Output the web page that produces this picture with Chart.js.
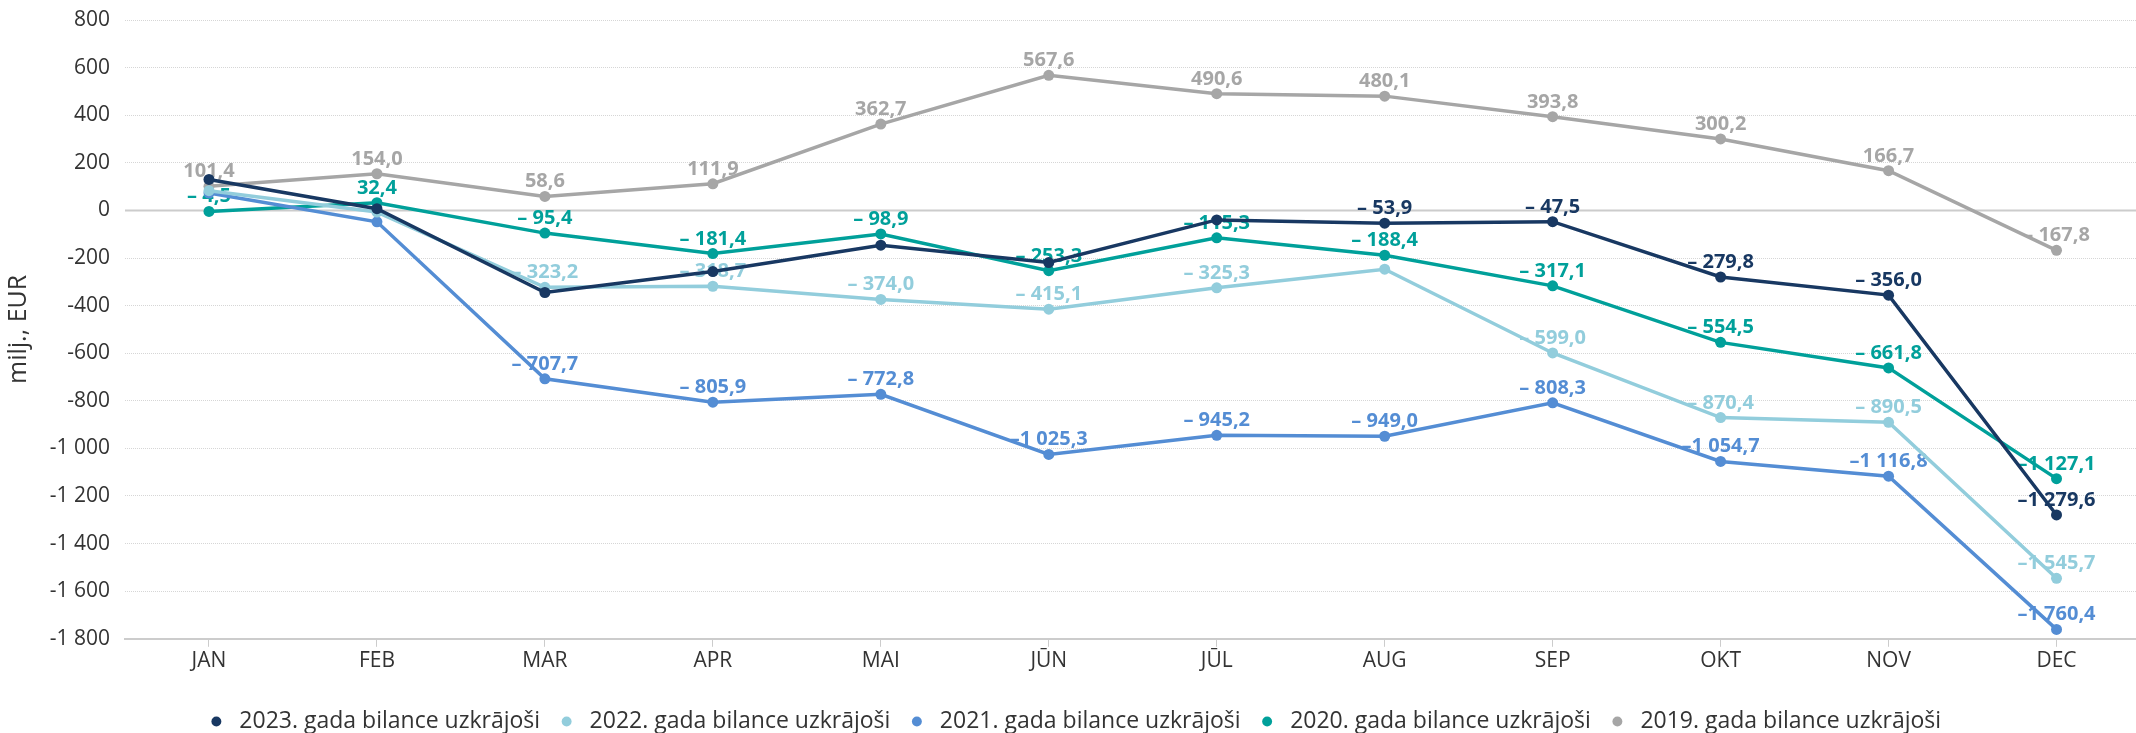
<!DOCTYPE html>
<html lang="lv">
<head>
  <meta charset="UTF-8">
  <title>Bilance uzkrājoši</title>
  <script src="https://cdn.jsdelivr.net/npm/chart.js"></script>
  <style>
    body {
      margin: 0;
      padding: 0;
      background: #fff;
      overflow: hidden;
    }

    .wrap {
      position: relative;
      width: 2146px;
      height: 733px;
    }
  </style>
</head>
<body>
  <div class="wrap">
    <canvas id="balanceChart"></canvas>
  </div>
  <script>
    const months = ["JAN", "FEB", "MAR", "APR", "MAI", "JŪN", "JŪL", "AUG", "SEP", "OKT", "NOV", "DEC"];

    // milj. EUR, cumulative balance per month
    const bal2023 = [130, 7, -345, -257, -146, -219, -40, -53.9, -47.5, -279.8, -356.0, -1279.6];
    const bal2022 = [83, -7, -323.2, -318.7, -374.0, -415.1, -325.3, -247, -599.0, -870.4, -890.5, -1545.7];
    const bal2021 = [73, -48, -707.7, -805.9, -772.8, -1025.3, -945.2, -949.0, -808.3, -1054.7, -1116.8, -1760.4];
    const bal2020 = [-4.5, 32.4, -95.4, -181.4, -98.9, -253.3, -115.3, -188.4, -317.1, -554.5, -661.8, -1127.1];
    const bal2019 = [101.4, 154.0, 58.6, 111.9, 362.7, 567.6, 490.6, 480.1, 393.8, 300.2, 166.7, -167.8];

    // months whose value label is not shown (overlapping in the original)
    const hidden2023 = [0, 1, 2, 3, 4, 5, 6];
    const hidden2022 = [0, 1, 7];
    const hidden2021 = [0, 1];

    const FONT = "'Open Sans', sans-serif";

    function fmtLabel(v) {
      const abs = Math.abs(v).toFixed(1).replace(".", ",");
      const parts = abs.split(",");
      const whole = parts[0].replace(/\B(?=(\d{3})+(?!\d))/g, " ");
      const txt = whole + "," + parts[1];
      if (v >= 0) return txt;
      return Math.abs(v) >= 1000 ? "–" + txt : "– " + txt;
    }

    function makeSet(label, data, color, hidden) {
      return {
        label: label,
        data: data,
        borderColor: color,
        backgroundColor: color,
        borderWidth: 3.5,
        pointRadius: 5.5,
        pointHoverRadius: 5.5,
        pointBorderWidth: 0,
        tension: 0,
        hiddenLabels: hidden || []
      };
    }

    const valueLabels = {
      id: "valueLabels",
      afterDatasetDraw(chart, args) {
        const ctx = chart.ctx;
        const ds = chart.data.datasets[args.index];
        ctx.save();
        ctx.font = "bold 20px " + FONT;
        ctx.textAlign = "center";
        ctx.textBaseline = "alphabetic";
        ctx.fillStyle = ds.borderColor;
        args.meta.data.forEach((pt, i) => {
          if (ds.hiddenLabels.includes(i)) return;
          ctx.fillText(fmtLabel(ds.data[i]), pt.x, pt.y - 9);
        });
        ctx.restore();
      }
    };

    const zeroLine = {
      id: "zeroLine",
      beforeDatasetsDraw(chart) {
        const ctx = chart.ctx;
        const y = chart.scales.y.getPixelForValue(0);
        ctx.save();
        ctx.strokeStyle = "#cccccc";
        ctx.lineWidth = 2;
        ctx.beginPath();
        ctx.moveTo(chart.chartArea.left, y);
        ctx.lineTo(chart.chartArea.right, y);
        ctx.stroke();
        ctx.restore();
      }
    };

    const ctx = document.getElementById("balanceChart").getContext("2d");
    new Chart(ctx, {
      type: "line",
      data: {
        labels: months,
        datasets: [
          makeSet("2023. gada bilance uzkrājoši", bal2023, "#183862", hidden2023),
          makeSet("2022. gada bilance uzkrājoši", bal2022, "#92cddc", hidden2022),
          makeSet("2021. gada bilance uzkrājoši", bal2021, "#548dd4", hidden2021),
          makeSet("2020. gada bilance uzkrājoši", bal2020, "#00a09a"),
          makeSet("2019. gada bilance uzkrājoši", bal2019, "#a6a6a6")
        ]
      },
      options: {
        responsive: true,
        maintainAspectRatio: false,
        animation: false,
        layout: {
          padding: { top: 20, right: 0, bottom: -10, left: 0 }
        },
        scales: {
          x: {
            offset: true,
            afterFit(scale) {
              scale.height += 19;
            },
            grid: {
              drawOnChartArea: false,
              drawTicks: true,
              tickLength: 8,
              color: "#cccccc"
            },
            border: { color: "#cccccc", width: 2 },
            ticks: {
              color: "#333333",
              font: { family: FONT, size: 21 },
              padding: 2,
              maxRotation: 0
            }
          },
          y: {
            min: -1800,
            max: 800,
            afterFit(scale) {
              scale.width = 125;
              scale.paddingTop = 0;
              scale.paddingBottom = 0;
            },
            ticks: {
              stepSize: 200,
              color: "#333333",
              font: { family: FONT, size: 21 },
              padding: 15,
              callback: (v) => {
                const s = Math.abs(v).toString().replace(/\B(?=(\d{3})+(?!\d))/g, " ");
                return v < 0 ? "-" + s : s;
              }
            },
            grid: {
              drawTicks: false,
              color: (c) => (c.tick && (c.tick.value === 0 || c.tick.value === -1800)) ? "rgba(0,0,0,0)" : "#d6d6d6"
            },
            border: { display: false, dash: [1, 1] },
            title: {
              display: true,
              text: "milj., EUR",
              color: "#333333",
              font: { family: FONT, size: 25 },
              padding: { top: 4, bottom: 0 }
            }
          }
        },
        plugins: {
          legend: {
            position: "bottom",
            labels: {
              usePointStyle: true,
              pointStyle: "circle",
              boxWidth: 23,
              boxHeight: 7,
              padding: 15,
              color: "#333333",
              font: { family: FONT, size: 23 }
            }
          },
          tooltip: { enabled: false }
        }
      },
      plugins: [zeroLine, valueLabels]
    });
  </script>
</body>
</html>
